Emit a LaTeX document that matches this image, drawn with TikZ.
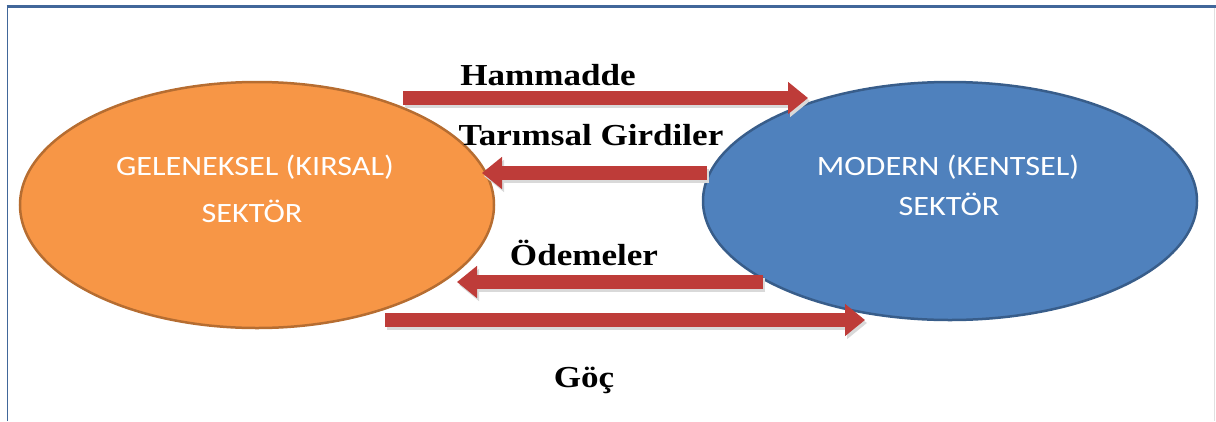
\documentclass[tikz,border=0pt]{standalone}
\usepackage{fontspec}
\setmainfont{Liberation Serif}
\newfontfamily\carlito{Carlito}
\usetikzlibrary{arrows.meta, shapes.geometric}
\definecolor{turuncu}{HTML}{F79646}
\definecolor{turuncukenar}{HTML}{B66D31}
\definecolor{mavi}{HTML}{4F81BD}
\definecolor{mavikenar}{HTML}{385D8A}
\definecolor{kirmizi}{HTML}{BE3C39}
\definecolor{cerceve}{HTML}{41679A}
\newcommand{\gen}[1]{\scalebox{1.15}[1]{#1}}

\begin{document}
\begin{tikzpicture}[x=1pt, y=-1pt,
	sektor/.style={ellipse, inner sep=0pt, line width=2.5pt},
	sektoryazi/.style={text=white, anchor=base, inner sep=0pt, font=\carlito\fontsize{28}{34}\selectfont},
	akis/.style={line width=14pt, draw=kirmizi, -{Triangle[width=31pt, length=20pt]}},
	golge/.style={line width=14pt, draw=black!15, -{Triangle[width=31pt, length=20pt]}},
	etiket/.style={anchor=base, inner sep=0pt, font=\bfseries\fontsize{30.5}{36}\selectfont}]
	
	\useasboundingbox (0,0) rectangle (1216,421);
	
	% cerceve
	\draw[cerceve, line width=1.7pt] (7.5,421) -- (7.5,6);
	\draw[cerceve, line width=3pt] (6.5,6) -- (1216,6);
	\draw[black!12, line width=1pt] (1214,7.5) -- (1214,421);
	
	% sektorler
	\node[sektor, fill=turuncu, draw=turuncukenar, minimum width=474pt, minimum height=246pt] (kirsal) at (257,205) {};
	\node[sektor, fill=mavi, draw=mavikenar, minimum width=494pt, minimum height=238pt] (kentsel) at (950,201) {};
	
	\node[sektoryazi] (kirsalA) at (255,175) {\gen{GELENEKSEL (KIRSAL)}};
	\node[sektoryazi] (kirsalB) at (252,222) {\gen{SEKTÖR}};
	\node[sektoryazi] (kentselA) at (948,175) {\gen{MODERN (KENTSEL)}};
	\node[sektoryazi] (kentselB) at (949,215) {\gen{SEKTÖR}};
	
	% akislar
	\coordinate (hamS) at (403,98);
	\coordinate (hamE) at (808,98);
	\coordinate (tarS) at (707,173);
	\coordinate (tarE) at (482,173);
	\coordinate (odeS) at (763,282);
	\coordinate (odeE) at (457,282);
	\coordinate (gocS) at (385,320);
	\coordinate (gocE) at (865,320);
	
	\foreach \s/\e in {ham/ham, tar/tar, ode/ode, goc/goc}{
		\draw[golge] ([shift={(2,3)}]\s S) -- ([shift={(2,3)}]\e E);
		\draw[akis] (\s S) -- (\e E);
	}
	
	\node[etiket] (hammadde) at (548,85) {\gen{Hammadde}};
	\node[etiket] (girdiler) at (591,145) {\gen{Tarımsal Girdiler}};
	\node[etiket] (odemeler) at (584,265) {\gen{Ödemeler}};
	\node[etiket] (goc) at (584,387) {\gen{Göç}};
	
\end{tikzpicture}
\end{document}
